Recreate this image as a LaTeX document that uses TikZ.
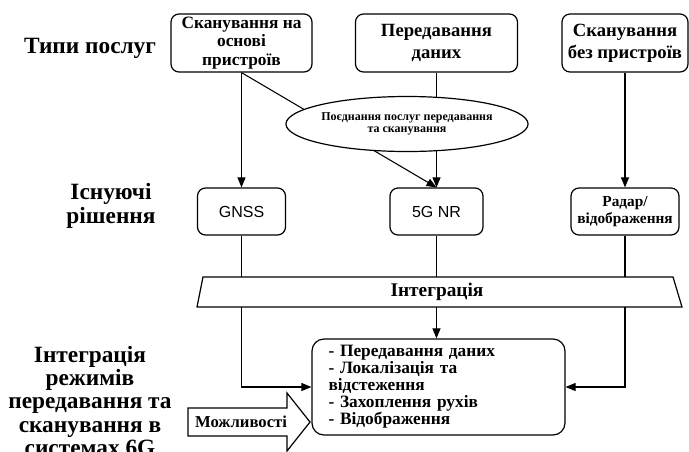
\documentclass[tikz,border=0pt]{standalone}
\usepackage{fontspec}
\setmainfont{Liberation Serif}
\newfontfamily\sansf{Liberation Sans}
\usetikzlibrary{arrows.meta,shapes.geometric}

\tikzset{
  service/.style={draw, line width=0.9pt, rounded corners=6pt, align=center,
    minimum height=43.5pt, inner sep=1pt, font=\bfseries\fontsize{14}{16.5}\selectfont},
  solution/.style={draw, line width=0.9pt, rounded corners=6pt, align=center,
    minimum height=35.25pt, inner sep=1pt},
  rowlabel/.style={align=center, font=\bfseries\fontsize{17.5}{17.5}\selectfont},
  link/.style={line width=0.8pt},
  arr/.style={link, -{Triangle[length=7.5pt,width=6pt]}}
}

\begin{document}
\begin{tikzpicture}[x=0.75pt,y=-0.75pt]
  \useasboundingbox (0,0) rectangle (689,451);

  % Row labels
  \node[rowlabel] (types) at (90,48) {Типи послуг};
  \node[rowlabel] (exist) at (111,206) {Існуючі\\рішення};
  \node[rowlabel] (integr) at (90,401) {Інтеграція\\режимів\\передавання та\\сканування в\\системах 6G};

  % Service types
  \node[service, minimum width=105.75pt, font=\bfseries\fontsize{13}{13.9}\selectfont] (devscan) at (241.5,43) {Сканування на\\основі\\пристроїв};
  \node[service, minimum width=121.5pt] (data) at (436.5,43) {Передавання\\даних};
  \node[service, minimum width=94.5pt] (freescan) at (625,43) {Сканування\\без пристроїв};

  % Existing solutions
  \node[solution, minimum width=66pt, font=\sansf\fontsize{12}{14}\selectfont] (gnss) at (241.5,211.5) {GNSS};
  \node[solution, minimum width=69.75pt, font=\sansf\fontsize{12}{14}\selectfont] (nr) at (436.5,211.5) {5G NR};
  \node[solution, minimum width=81pt, font=\bfseries\fontsize{11.5}{12.75}\selectfont] (radar) at (625,211.5) {Радар/\\відображення};

  % Arrows to solutions
  \draw[arr] (devscan) -- (gnss);
  \draw[arr] (devscan.south) -- (nr.north);
  \draw[arr] (data) -- (nr);
  \draw[arr] (freescan) -- (radar);

  % Combined services
  \node[draw, ellipse, line width=0.9pt, fill=white, minimum width=165pt, minimum height=41.25pt,
    inner sep=0pt, align=center, font=\bfseries\fontsize{9}{8.5}\selectfont] (combo) at (407,124)
    {Поєднання послуг передавання\\та сканування};

  % Integration
  \coordinate (intop) at (0,277);
  \coordinate (inbot) at (0,307);
  \draw[line width=0.9pt] (203,277) -- (673,277) -- (682,307) -- (197,307) -- cycle;
  \node[font=\bfseries\fontsize{14.5}{16}\selectfont] (integ) at (437,292) {Інтеграція};
  \draw[link] (gnss) -- (gnss |- intop);
  \draw[link] (nr) -- (nr |- intop);
  \draw[link] (radar) -- (radar |- intop);

  % Capabilities
  \node[draw, line width=0.9pt, rounded corners=9pt, minimum width=189.75pt, minimum height=72pt,
    text width=165pt, align=left, inner xsep=11pt, inner ysep=2pt,
    font=\bfseries\fontsize{13}{12.75}\selectfont] (caps) at (438.5,387)
    {- Передавання даних\\- Локалізація та\\відстеження\\- Захоплення рухів\\- Відображення};
  \draw[arr] (gnss |- inbot) |- (caps.west);
  \draw[arr] (nr |- inbot) -- (nr |- caps.north);
  \draw[arr] (radar |- inbot) |- (caps.east);

  % Block arrow
  \draw[line width=0.9pt] (188,408) -- (287,408) -- (287,393) -- (310,422)
    -- (287,451) -- (287,436) -- (188,436) -- cycle;
  \node[font=\bfseries\fontsize{12.5}{14}\selectfont] (capsin) at (241,422) {Можливості};
\end{tikzpicture}
\end{document}
